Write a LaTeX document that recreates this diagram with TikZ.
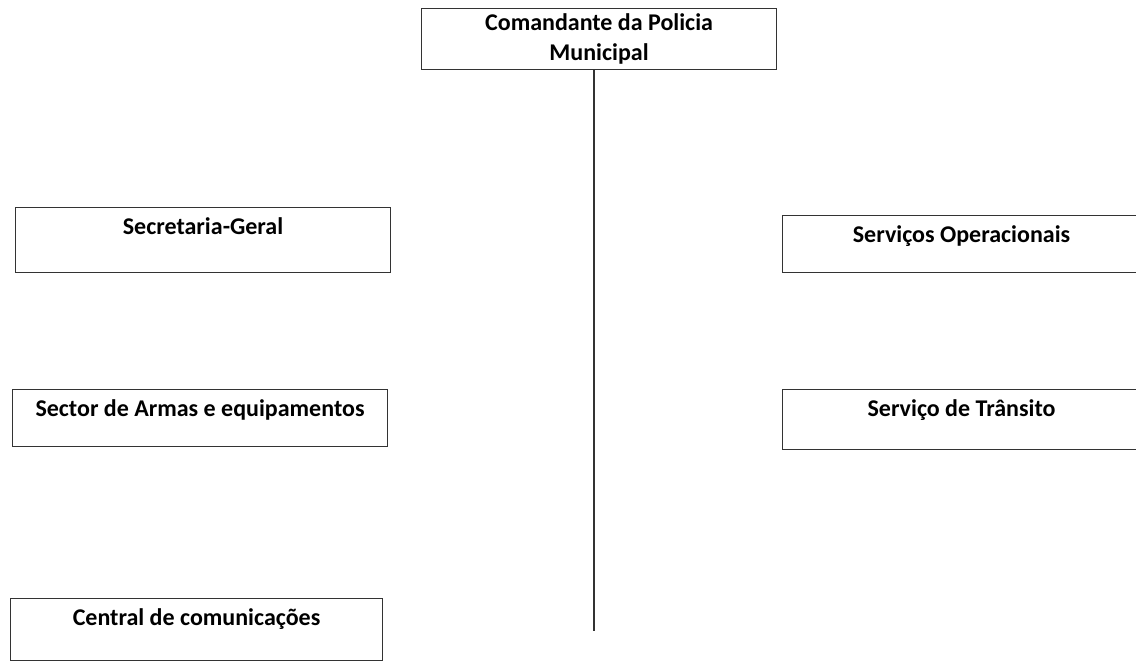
\documentclass[tikz,border=0pt]{standalone}
\usepackage{fontspec}
\setmainfont{Carlito}

\begin{document}
\begin{tikzpicture}[x=1pt,y=-1pt,
    unit/.style={draw=black!80,line width=1.1pt,inner sep=0pt,anchor=north west,
      font=\fontsize{24}{30}\selectfont\bfseries,text height=27pt}]
  \useasboundingbox (0,0) rectangle (1136,661);

  \node[unit,text height=,minimum width=355pt,minimum height=61pt,align=center] (cmd) at (421,8)
    {Comandante da Policia\\Municipal};

  % left column
  \node[unit,minimum width=375pt,text depth=38pt] (sec) at (15,207) {Secretaria-Geral};
  \node[unit,minimum width=375pt,text depth=30pt] (arm) at (12,389) {Sector de Armas e equipamentos};
  \node[unit,minimum width=372pt,text depth=35pt] (com) at (10,598) {Central de comunica\c{c}\~oes};

  % right column
  \node[unit,minimum width=358pt,text depth=30pt] (ops) at (782,215) {Servi\c{c}os Operacionais};
  \node[unit,minimum width=358pt,text depth=33pt] (tra) at (782,389) {Servi\c{c}o de Tr\^ansito};

  \coordinate (end) at (594,631);
  \draw[black!80,line width=1.1pt] (cmd.south -| end) -- (end);
\end{tikzpicture}
\end{document}
